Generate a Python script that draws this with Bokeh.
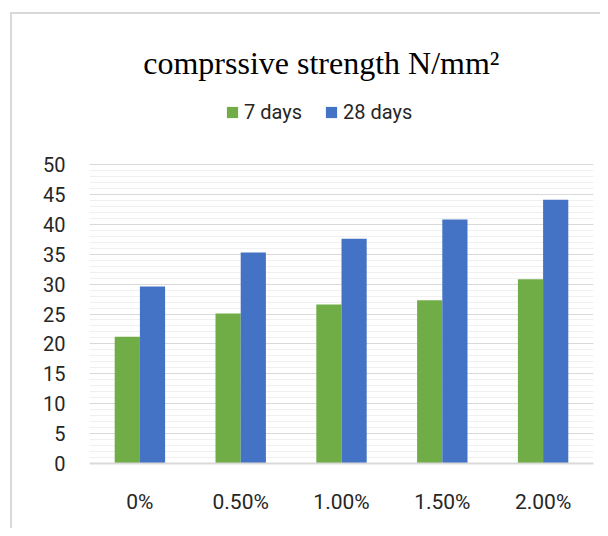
from bokeh.plotting import figure
from bokeh.models import (ColumnDataSource, FactorRange, Legend, LegendItem,
                          FixedTicker, Label)
from bokeh.transform import dodge
from bokeh.embed import file_html
from bokeh.resources import INLINE

categories = ["0%", "0.50%", "1.00%", "1.50%", "2.00%"]
days7 = [21.2, 25.1, 26.6, 27.3, 30.8]
days28 = [29.6, 35.3, 37.6, 40.8, 44.1]
major_ticks = list(range(0, 51, 5))
minor_ticks = list(range(0, 51, 1))

src = ColumnDataSource(dict(cat=categories, d7=days7, d28=days28))

PX = 299 / 50.0           # pixels per unit on the value axis
TOP = 50 + 124 / PX       # frame extends above the axis to hold title/legend

p = figure(x_range=FactorRange(*categories, range_padding=0), y_range=(0, TOP),
           frame_width=504, frame_height=423,
           output_backend="svg", toolbar_location=None,
           min_border_left=77, min_border_right=7, min_border_top=26,
           min_border_bottom=65)
p.margin = (12, 0, 0, 10)
p.styles = {"border-left": "2px solid #d9d9d9", "border-top": "2px solid #d9d9d9"}

r7 = p.vbar(x=dodge("cat", -0.125, range=p.x_range), top="d7", width=0.25,
            source=src, color="#70AD47", line_color=None)
r28 = p.vbar(x=dodge("cat", 0.125, range=p.x_range), top="d28", width=0.25,
             source=src, color="#4472C4", line_color=None)

title = Label(x=2.30, y=(463 - 62) / PX, text="comprssive strength N/mm\u00b2",
              text_font="Liberation Serif", text_font_size="32px",
              text_color="#000000", text_align="center",
              text_baseline="middle")
p.add_layout(title)

legend = Legend(items=[LegendItem(label="7 days", renderers=[r7]),
                       LegendItem(label="28 days", renderers=[r28])],
                orientation="horizontal", location=(136, 339),
                label_text_font="Roboto", label_text_font_size="20px",
                label_text_color="#262626", glyph_width=14, glyph_height=14,
                spacing=22, label_standoff=5, border_line_color=None,
                background_fill_alpha=0, padding=0, margin=0)
p.add_layout(legend)

p.yaxis.ticker = FixedTicker(ticks=major_ticks, minor_ticks=minor_ticks)
p.ygrid.grid_line_color = "#d9d9d9"
p.ygrid.minor_grid_line_color = "#f0f0f0"
p.xgrid.grid_line_color = None
p.outline_line_color = None

p.yaxis.axis_line_color = None
p.yaxis.major_tick_line_color = None
p.yaxis.minor_tick_line_color = None
p.yaxis.major_label_text_font = "Roboto"
p.yaxis.major_label_text_font_size = "20px"
p.yaxis.major_label_text_color = "#262626"
p.yaxis.major_label_standoff = 18

p.xaxis.axis_line_color = "#d9d9d9"
p.xaxis.axis_line_width = 2
p.xaxis.major_tick_line_color = None
p.xaxis.minor_tick_line_color = None
p.xaxis.major_label_text_font = "Roboto"
p.xaxis.major_label_text_font_size = "21px"
p.xaxis.major_label_text_color = "#262626"
p.xaxis.major_label_standoff = 20

open("out.html", "w").write(file_html(p, INLINE))
